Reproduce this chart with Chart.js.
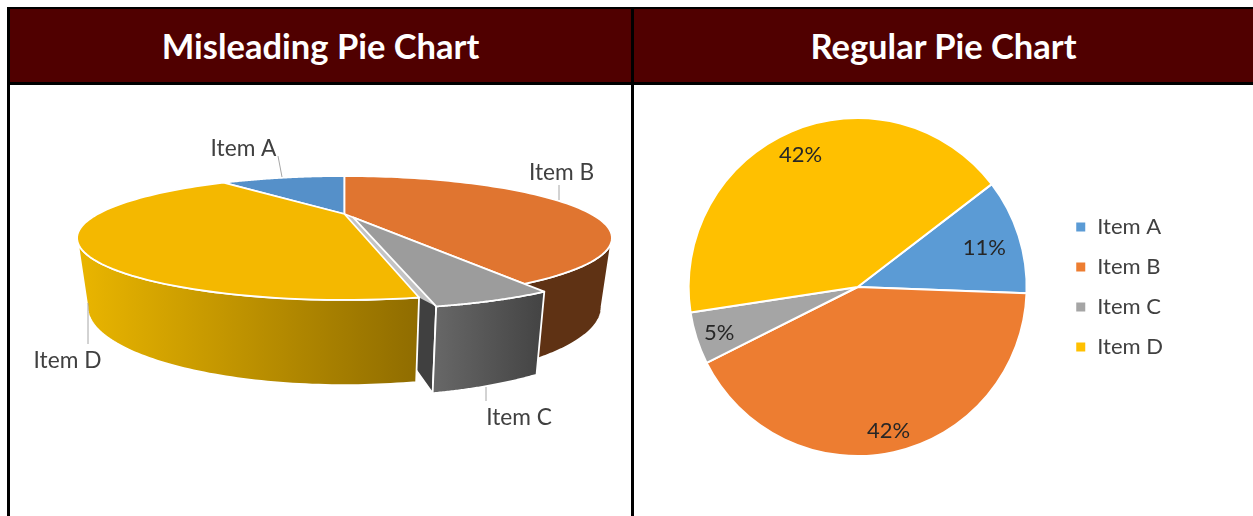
<!DOCTYPE html>
<html>
<head>
<meta charset="utf-8">
<script src="https://cdn.jsdelivr.net/npm/chart.js@4"></script>
<style>
  html,body{margin:0;padding:0;background:#fff;width:1253px;height:516px;overflow:hidden}
  body{position:relative;font-family:Lato,sans-serif}
  .line{position:absolute;background:#000;z-index:3}
  .head{position:absolute;top:9px;height:72px;padding-bottom:2px;background:#500000;color:#fff;font:700 34.5px Lato,sans-serif;
        display:flex;align-items:center;justify-content:center;z-index:2}
  canvas{position:absolute;top:0}
</style>
</head>
<body>
<div class="head" style="left:10px;width:621px">Misleading Pie Chart</div>
<div class="head" style="left:634px;width:619px">Regular Pie Chart</div>
<div class="line" style="left:7px;top:7px;width:1246px;height:2px"></div>
<div class="line" style="left:7px;top:82px;width:1246px;height:3px"></div>
<div class="line" style="left:7px;top:7px;width:3px;height:509px"></div>
<div class="line" style="left:631px;top:7px;width:3px;height:509px"></div>
<canvas id="left" width="631" height="516" style="left:0"></canvas>
<canvas id="right" width="619" height="404" style="left:634px;top:85px"></canvas>
<script>
// ---- data ----
const categories = ['Item A', 'Item B', 'Item C', 'Item D'];
const misleadingValues = [11, 42, 5, 42];
const regularValues = [11, 42, 5, 42];
const explodedShare = [0, 0, 0.071, 0];

// ---- styles ----
const topColors = ['#5590C9', '#E07530', '#9C9C9C', '#F4B800'];
const pieColors = ['#5B9BD5', '#ED7D31', '#A5A5A5', '#FFC000'];
const LABEL = '#404040';
const FONT = 'Lato, sans-serif';

// perspective view of the tilted disc, in page pixels
const view = {cx:344.5, cy:214, a:246.6, b:52.7, k:0.387, aBottom:237, bBottom:66.3, bottomY:277, explodeTurn:-9*Math.PI/180};
const labelSpots = [
  {x:243.5, y:149, from:[278,156], to:[282,177]},
  {x:561.5, y:173, from:[559,185], to:[559,200]},
  {x:519,   y:418, from:[486,387], to:[486,401]},
  {x:67.5,  y:361, from:[88,303],  to:[88,344]}
];

function projTop(u, v){ const w = 1 - view.k*v; return [view.cx + view.a*u/w, view.cy + view.b*v/w]; }
function projBot(u, v){ const w = 1 - view.k*v; return [view.cx + view.aBottom*u/w, view.bottomY + view.bBottom*v/w]; }
function rim(from, to, off, proj){
  const pts = [], n = 80;
  for(let i=0;i<=n;i++){
    const t = from + (to-from)*i/n;
    pts.push(proj(Math.cos(t)+off[0], Math.sin(t)+off[1]));
  }
  return pts;
}
function trace(ctx, pts, start){ pts.forEach((p,i)=> (i===0&&start)?ctx.moveTo(p[0],p[1]):ctx.lineTo(p[0],p[1])); }
function paint(ctx, fill, lw){
  ctx.closePath(); ctx.fillStyle = fill; ctx.fill();
  ctx.strokeStyle = '#fff'; ctx.lineWidth = lw; ctx.lineJoin='round'; ctx.stroke();
}
function offsetOf(arc, i){
  const mid = (arc.startAngle+arc.endAngle)/2 + view.explodeTurn;
  return [explodedShare[i]*Math.cos(mid), explodedShare[i]*Math.sin(mid)];
}
function drawSide(ctx, arc, i, fill){
  const o = offsetOf(arc,i);
  // only the part of the rim that faces the viewer
  const edge = Math.asin(view.k);
  const from = Math.max(arc.startAngle, edge), to = Math.min(arc.endAngle, Math.PI-edge);
  ctx.beginPath();
  trace(ctx, rim(from,to,o,projTop), true);
  trace(ctx, rim(from,to,o,projBot).reverse(), false);
  paint(ctx, fill, 1.8);
}
function drawTop(ctx, arc, i){
  const o = offsetOf(arc,i);
  const c = projTop(o[0],o[1]);
  ctx.beginPath(); ctx.moveTo(c[0],c[1]);
  trace(ctx, rim(arc.startAngle,arc.endAngle,o,projTop), false);
  paint(ctx, topColors[i], 1.8);
}
function drawInnerWall(ctx, arc, i, fill){
  const o = offsetOf(arc,i);
  const t = arc.endAngle;
  const u = Math.cos(t)+o[0], v = Math.sin(t)+o[1];
  const a=projTop(o[0],o[1]), b=projTop(u,v), c=projBot(u,v), d=projBot(o[0],o[1]);
  ctx.beginPath(); ctx.moveTo(a[0],a[1]); ctx.lineTo(b[0],b[1]); ctx.lineTo(c[0],c[1]); ctx.lineTo(d[0],d[1]);
  paint(ctx, fill, 1.8);
  // the thin gap between the pulled-out wedge and its neighbour reads pale, not dark
  const n = projTop(Math.cos(t), Math.sin(t)), m = projTop(0, 0);
  ctx.beginPath(); ctx.moveTo(a[0],a[1]); ctx.lineTo(b[0],b[1]); ctx.lineTo(n[0],n[1]); ctx.lineTo(m[0],m[1]);
  ctx.closePath(); ctx.fillStyle = '#C4C4C4'; ctx.fill();
}

const perspectivePie = {
  id:'perspectivePie',
  beforeDatasetDraw(chart){
    const ctx = chart.ctx, arcs = chart.getDatasetMeta(0).data;
    ctx.save();
    drawSide(ctx, arcs[1], 1, '#5F3214');
    drawInnerWall(ctx, arcs[2], 2, '#404040');
    const g = ctx.createLinearGradient(85,0,420,0);
    g.addColorStop(0,'#E8B400'); g.addColorStop(1,'#8F6C00');
    drawSide(ctx, arcs[3], 3, g);
    [0,1,3].forEach(i=>drawTop(ctx, arcs[i], i));
    const o = offsetOf(arcs[2],2);
    const left = projBot(Math.cos(arcs[2].endAngle)+o[0], Math.sin(arcs[2].endAngle)+o[1])[0];
    const right = projTop(Math.cos(arcs[2].startAngle)+o[0], Math.sin(arcs[2].startAngle)+o[1])[0];
    const g2 = ctx.createLinearGradient(left,0,right,0);
    g2.addColorStop(0,'#686868'); g2.addColorStop(1,'#434343');
    drawSide(ctx, arcs[2], 2, g2);
    drawTop(ctx, arcs[2], 2);
    ctx.restore();
    return false;
  },
  afterDatasetsDraw(chart){
    const ctx = chart.ctx;
    ctx.save();
    ctx.strokeStyle = '#A6A6A6'; ctx.lineWidth = 1;
    ctx.font = '22.7px '+FONT; ctx.fillStyle = LABEL;
    ctx.textAlign = 'center'; ctx.textBaseline = 'middle';
    categories.forEach((name,i)=>{
      const s = labelSpots[i];
      ctx.beginPath(); ctx.moveTo(s.from[0],s.from[1]); ctx.lineTo(s.to[0],s.to[1]); ctx.stroke();
      ctx.fillText(name, s.x, s.y);
    });
    ctx.restore();
  }
};

const labelReach = [0.787, 0.86, 0.86, 0.86];
const percentLabels = {
  id:'percentLabels',
  afterDatasetsDraw(chart){
    const ctx = chart.ctx, arcs = chart.getDatasetMeta(0).data;
    const vals = chart.data.datasets[0].data, sum = vals.reduce((a,b)=>a+b,0);
    ctx.save();
    ctx.font = '22px '+FONT; ctx.fillStyle = '#262626';
    ctx.textAlign='center'; ctx.textBaseline='middle';
    arcs.forEach((arc,i)=>{
      const mid=(arc.startAngle+arc.endAngle)/2, r=arc.outerRadius*labelReach[i];
      ctx.fillText(Math.round(vals[i]/sum*100)+'%', arc.x+Math.cos(mid)*r, arc.y+Math.sin(mid)*r+1.5);
    });
    ctx.restore();
  }
};

new Chart(document.getElementById('left'), {
  type:'pie',
  data:{labels:categories, datasets:[{data:misleadingValues, backgroundColor:topColors}]},
  options:{responsive:false, animation:false, rotation:-39.6,
    layout:{padding:{left:100,right:40,top:90,bottom:100}},
    plugins:{legend:{display:false}, tooltip:{enabled:false}}},
  plugins:[perspectivePie]
});

new Chart(document.getElementById('right'), {
  type:'pie',
  data:{labels:categories, datasets:[{data:regularValues, backgroundColor:pieColors, borderColor:'#fff', borderWidth:2}]},
  options:{responsive:false, animation:false, rotation:52.5,
    layout:{padding:{left:24,right:80,top:32,bottom:32}},
    plugins:{tooltip:{enabled:false},
      legend:{position:'right', labels:{boxWidth:11, boxHeight:11, padding:18, color:LABEL, font:{family:FONT,size:22}}}}},
  plugins:[percentLabels]
});
</script>
</body>
</html>
